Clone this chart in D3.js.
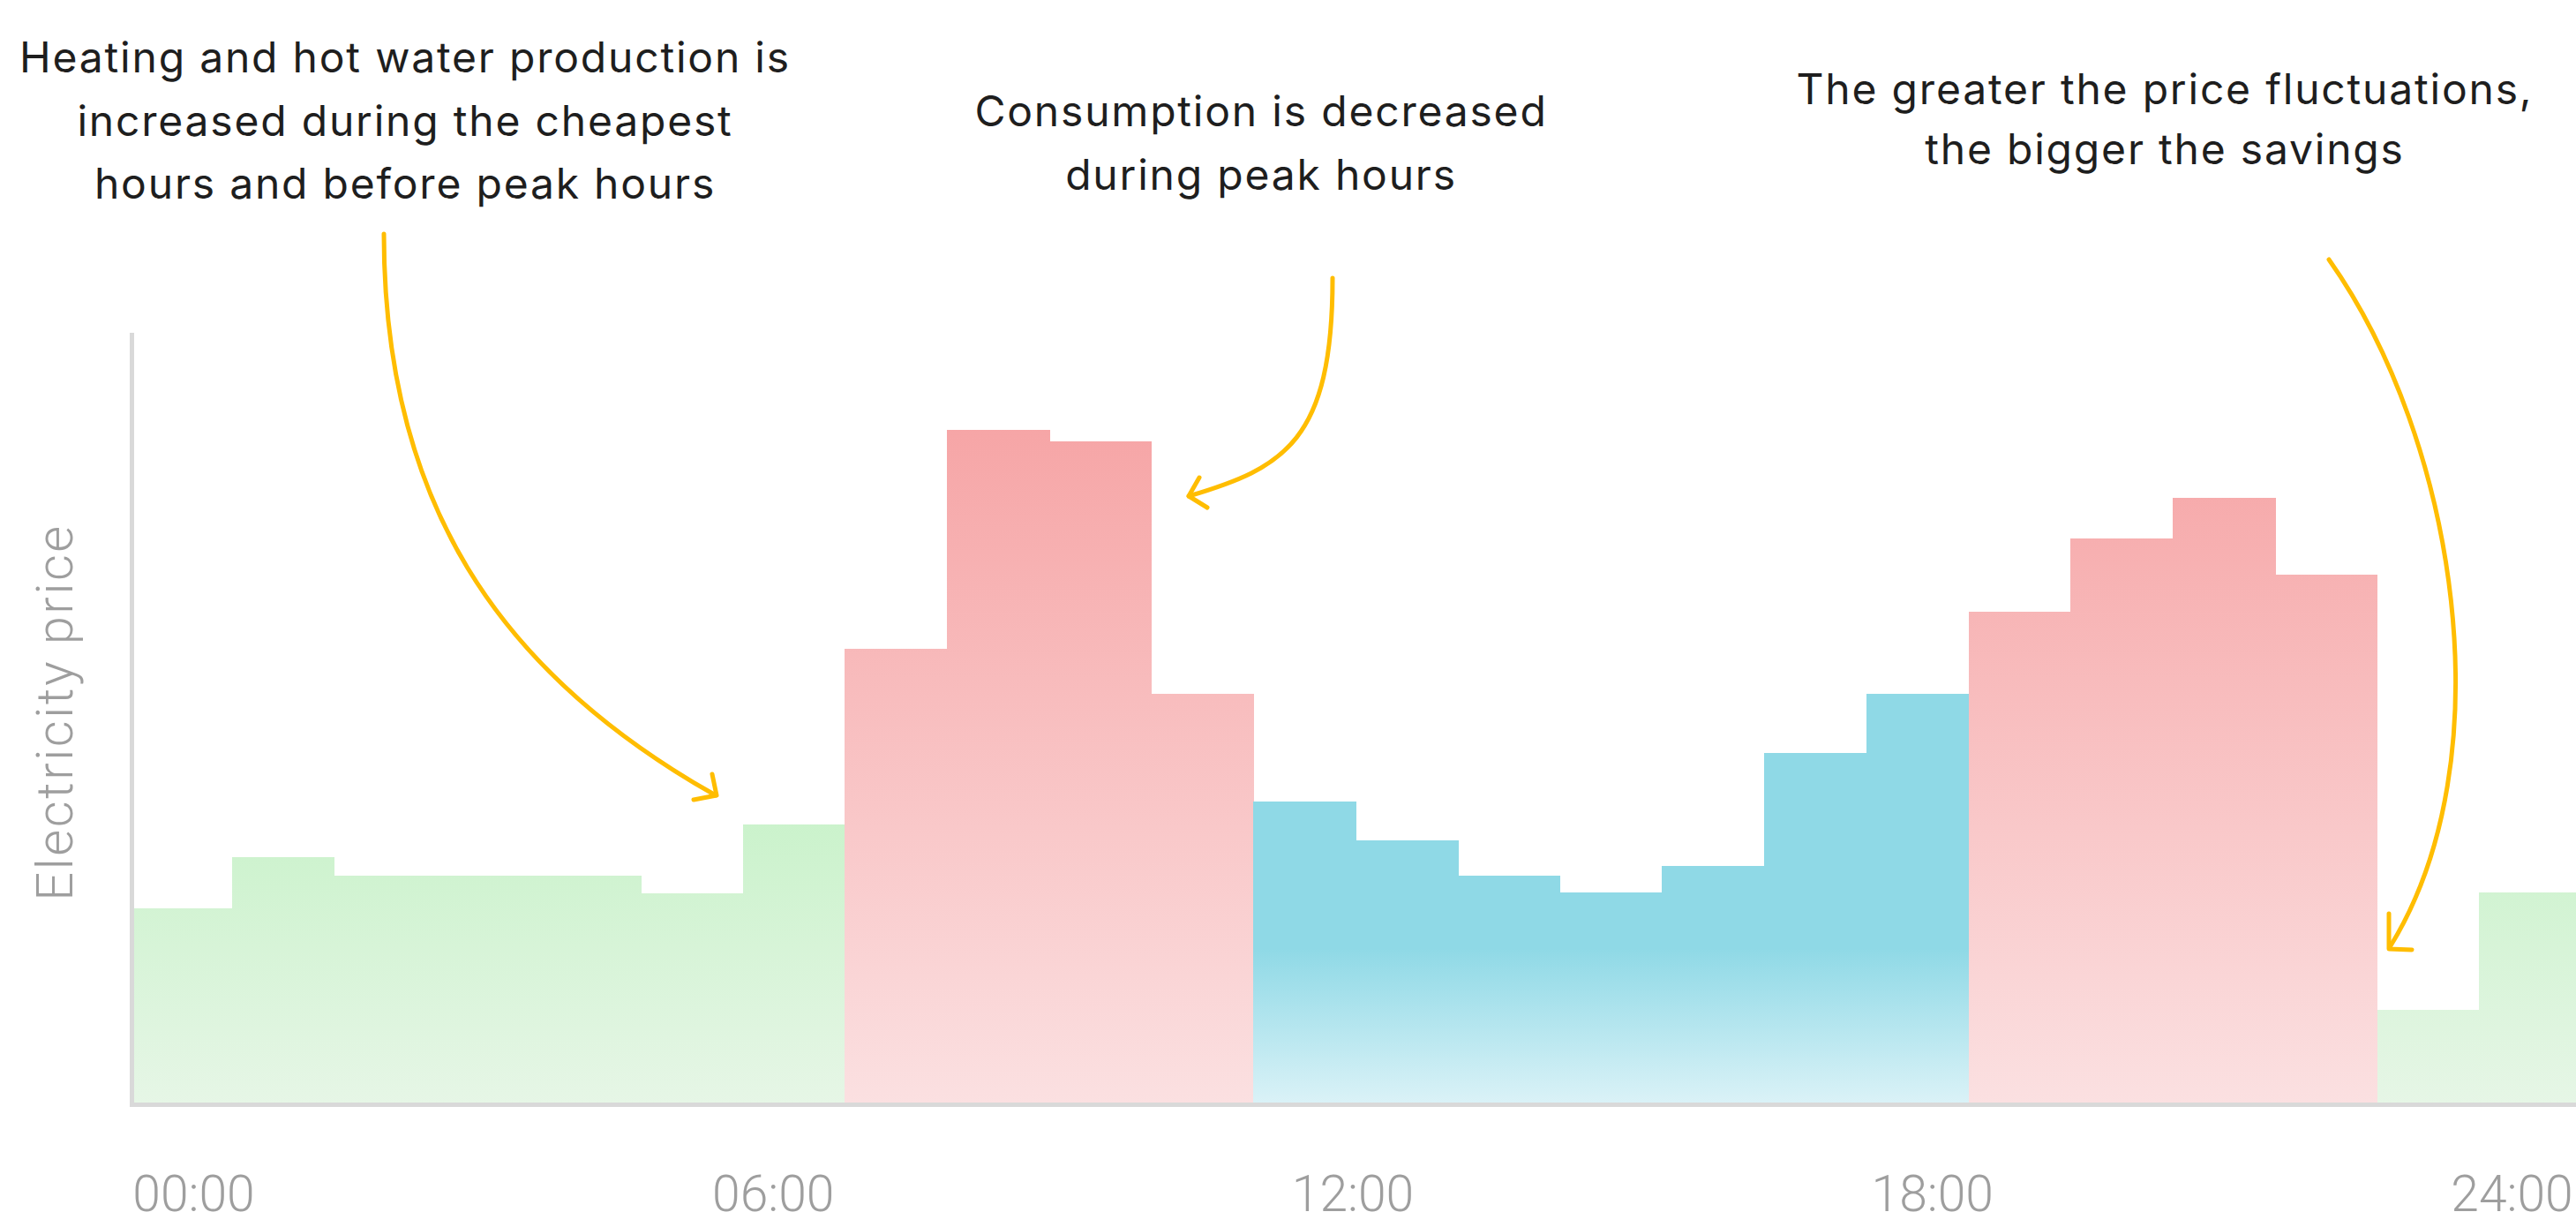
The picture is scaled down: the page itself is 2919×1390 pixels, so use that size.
<!DOCTYPE html>
<html>
<head>
<meta charset="utf-8">
<script src="https://cdn.jsdelivr.net/npm/d3@7"></script>
<style>
html,body{margin:0;padding:0;background:#fff;overflow:hidden}
</style>
</head>
<body>
<div id="chart"></div>
<script>
// ---------- data ----------
const hours = [0,1,2,3,4,5,6,7,8,9,10,11,12,13,14,15,16,17,18,19,20,21,22,23];
const prices = [25.2,31.9,29.5,29.5,29.5,27.2,36.1,59.0,87.4,85.9,53.1,39.1,34.1,29.5,27.3,30.7,45.4,53.1,63.8,73.3,78.5,68.6,12.0,27.3];
const periods = ["cheap","cheap","cheap","cheap","cheap","cheap","cheap",
                 "peak","peak","peak","peak",
                 "mid","mid","mid","mid","mid","mid","mid",
                 "peak","peak","peak","peak",
                 "cheap","cheap"];
const tickLabels = ["00:00","06:00","12:00","18:00","24:00"];
const yAxisTitle = "Electricity price";
const annotation1 = ["Heating and hot water production is","increased during the cheapest","hours and before peak hours"];
const annotation2 = ["Consumption is decreased","during peak hours"];
const annotation3 = ["The greater the price fluctuations,","the bigger the savings"];

// ---------- layout ----------
const W = 2919, H = 1390;
const plot = {left:147, right:2925, top:377, bottom:1249};

const svg = d3.select("#chart").append("svg")
  .attr("width", W).attr("height", H)
  .style("display","block");

const x = d3.scaleLinear().domain([0,24]).range([plot.left, plot.right]);
const y = d3.scaleLinear().domain([0,100]).range([plot.bottom, plot.top]);

// gradients (user space, so all bars of a period share one continuous gradient)
const defs = svg.append("defs");
const gradSpec = {
  cheap: {from: 40, to: 0, c0: "#c8f2c9", c1: "#e6f6e6"},
  peak:  {from: 88, to: 0, c0: "#f6a5a6", c1: "#fbe0e1"},
  mid:   {from: 20, to: 0, c0: "#8fd9e6", c1: "#daf2f7"}
};
Object.entries(gradSpec).forEach(([k,s]) => {
  const g = defs.append("linearGradient").attr("id","g-"+k)
    .attr("gradientUnits","userSpaceOnUse")
    .attr("x1",0).attr("x2",0).attr("y1",y(s.from)).attr("y2",y(s.to));
  g.append("stop").attr("offset","0%").attr("stop-color",s.c0);
  g.append("stop").attr("offset","100%").attr("stop-color",s.c1);
});

// bars
const data = hours.map((h,i) => ({h, v: prices[i], p: periods[i]}));
svg.append("g").selectAll("rect").data(data).join("rect")
  .attr("x", d => x(d.h))
  .attr("width", d => x(d.h+1) - x(d.h) + 0.8)
  .attr("y", d => y(d.v))
  .attr("height", d => y(0) - y(d.v))
  .attr("fill", d => "url(#g-" + d.p + ")")
  .attr("shape-rendering","crispEdges");

// axes lines
const axisColor = "#d9d9d9";
svg.append("line")
  .attr("x1", x(0)+2.5).attr("x2", x(0)+2.5)
  .attr("y1", y(100)).attr("y2", y(0)+5)
  .attr("stroke", axisColor).attr("stroke-width", 5);
svg.append("line")
  .attr("x1", x(0)).attr("x2", W)
  .attr("y1", y(0)+2.5).attr("y2", y(0)+2.5)
  .attr("stroke", axisColor).attr("stroke-width", 5);

// x tick labels (evenly distributed across the bottom)
const xl = d3.scalePoint().domain(tickLabels).range([219, 2846]);
const ax = svg.append("g").attr("transform","translate(0,1331)")
  .call(d3.axisBottom(xl).tickSize(0).tickPadding(0));
ax.select(".domain").remove();
ax.selectAll("text")
  .attr("dy","0.72em")
  .attr("fill","#9e9e9e")
  .style("font-family","Roboto, sans-serif")
  .style("font-weight","300")
  .style("font-size","57px");

// y axis title
svg.append("text")
  .attr("transform","translate(82,807) rotate(-90)")
  .attr("text-anchor","middle")
  .attr("fill","#9e9e9e")
  .style("font-family","Roboto, sans-serif")
  .style("font-weight","300")
  .style("font-size","58px")
  .style("letter-spacing","2.5px")
  .text(yAxisTitle);

// annotations
const textStyle = sel => sel
  .attr("text-anchor","middle")
  .attr("fill","#1e1e1e")
  .style("font-family","Inter, 'Open Sans', sans-serif")
  .style("font-weight","400")
  .style("font-size","48px")
  .style("letter-spacing","1.8px");

function annot(lines, cx, y0, pitch){
  const t = svg.append("text").call(textStyle);
  lines.forEach((l,i) => t.append("tspan").attr("x",cx).attr("y",y0+i*pitch).text(l));
}
annot(annotation1, 459, 82, 71.7);
annot(annotation2, 1429, 143, 71.7);
annot(annotation3, 2453, 118, 68);

// arrows (annotation decorations, cubic curves)
const arrowColor = "#ffbd00";
const arrows = [
  {p0:[435,265], c1:[435,565], c2:[562,761], p1:[811,901],
   head: [[807,877],[812,901],[786,906]]},
  {p0:[1510,315], c1:[1510,500], c2:[1455,530], p1:[1347,562],
   head: [[1359,541],[1347,562],[1368,575]]},
  {p0:[2639,294], c1:[2784,499], c2:[2840,860], p1:[2708,1073],
   head: [[2707,1035],[2707,1075],[2733,1076]]}
];
arrows.forEach(a => {
  const p = d3.path();
  p.moveTo(a.p0[0], a.p0[1]);
  p.bezierCurveTo(a.c1[0], a.c1[1], a.c2[0], a.c2[1], a.p1[0], a.p1[1]);
  svg.append("path").attr("d", p.toString())
    .attr("fill","none").attr("stroke",arrowColor).attr("stroke-width",5)
    .attr("stroke-linecap","round");
  svg.append("path").attr("d", d3.line()(a.head))
    .attr("fill","none").attr("stroke",arrowColor).attr("stroke-width",5)
    .attr("stroke-linecap","round").attr("stroke-linejoin","round");
});
</script>
</body>
</html>
